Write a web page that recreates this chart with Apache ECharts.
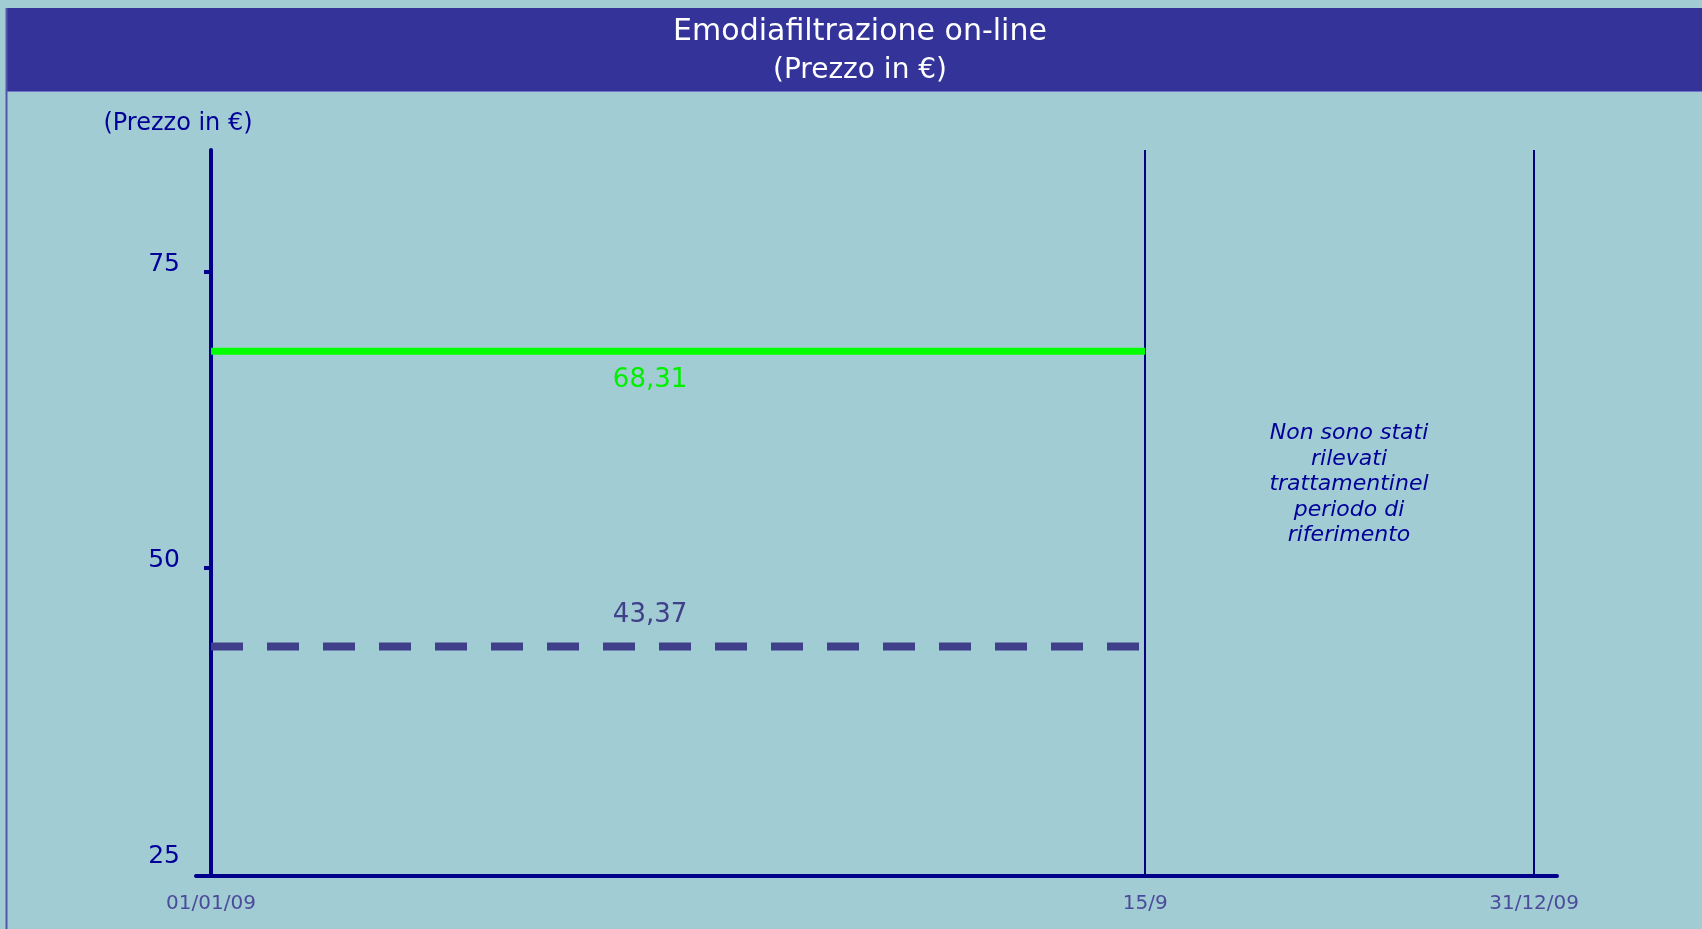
<!DOCTYPE html>
<html>
<head>
<meta charset="utf-8">
<script src="https://cdn.jsdelivr.net/npm/echarts@6/dist/echarts.min.js"></script>
<style>
  html, body { margin: 0; padding: 0; background: #A2CCD3; }
  #chart { width: 1702px; height: 929px; }
</style>
</head>
<body>
<div id="chart"></div>
<script>
// ---- Data ----
const titleText = 'Emodiafiltrazione on-line';
const subtitleText = '(Prezzo in €)';
const yAxisName = '(Prezzo in €)';
const xTickLabels = ['01/01/09', '15/9', '31/12/09'];
const xTickDays = [0, 257, 364];          // days from 01/01/09
const yTickLabels = [25, 50, 75];
const yTickMarks = [50, 75];
const periodStartDay = 0;                 // 01/01/09
const periodEndDay = 257;                 // 15/9
const verticalLineDays = [257, 364];      // 15/9, 31/12/09
const greenPrice = [68.31, 68.31];
const dashedPrice = [43.37, 43.37];
const noteText = 'Non sono stati\nrilevati\ntrattamentinel\nperiodo di\nriferimento';

// ---- Build ----
const fmt = v => String(v).replace('.', ',');
const greenData = [[periodStartDay, greenPrice[0]], [periodEndDay, greenPrice[1]]];
const dashedData = [[periodStartDay, dashedPrice[0]], [periodEndDay, dashedPrice[1]]];
const labelDay = periodStartDay + (periodEndDay - periodStartDay) * 0.47;

const axisColor = '#00008B';
const FONT = 'DejaVu Sans';

const chart = echarts.init(document.getElementById('chart'), null, { renderer: 'canvas' });
chart.setOption({
  animation: false,
  backgroundColor: '#A2CCD3',
  textStyle: { fontFamily: FONT },
  grid: { left: 196, right: 145, top: 150, bottom: 53, containLabel: false },
  xAxis: {
    type: 'value',
    min: -4.13,
    max: 370.3,
    axisLine: { show: true, onZero: true, lineStyle: { color: axisColor, width: 4 } },
    axisTick: { show: false },
    splitLine: { show: false },
    axisLabel: {
      customValues: xTickDays,
      formatter: v => xTickLabels[xTickDays.indexOf(v)] || '',
      color: '#4B4B9B',
      fontFamily: FONT,
      fontSize: 20,
      margin: 18
    }
  },
  yAxis: {
    type: 'value',
    min: 24,
    max: 85.3,
    name: yAxisName,
    nameLocation: 'end',
    nameGap: 14,
    nameTextStyle: { color: '#000099', fontFamily: FONT, fontSize: 24, align: 'center', padding: [0, 66, 0, 0] },
    axisLine: { show: true, onZero: true, lineStyle: { color: axisColor, width: 4 } },
    axisTick: { show: true, customValues: yTickMarks, length: 7, lineStyle: { color: axisColor, width: 4 } },
    splitLine: { show: false },
    axisLabel: {
      customValues: yTickLabels,
      color: '#000099',
      fontFamily: FONT,
      fontSize: 25,
      margin: 16,
      verticalAlign: 'bottom',
      lineHeight: 15
    }
  },
  series: [
    {
      type: 'line',
      data: greenData,
      symbol: 'none',
      z: 5,
      lineStyle: { color: '#00FF00', width: 7, cap: 'butt' },
      markPoint: {
        symbol: 'circle',
        symbolSize: 0,
        data: [{ coord: [labelDay, greenPrice[0]], value: greenPrice[0] }],
        label: {
          show: true, position: 'bottom', distance: 16,
          formatter: p => fmt(p.value),
          color: '#00F000', fontFamily: FONT, fontSize: 26
        }
      },
      markLine: {
        silent: true,
        symbol: ['none', 'none'],
        label: { show: false },
        lineStyle: { color: '#000080', width: 2, type: 'solid' },
        data: verticalLineDays.map(d => ({ xAxis: d }))
      }
    },
    {
      type: 'line',
      data: dashedData,
      symbol: 'none',
      z: 4,
      lineStyle: { color: '#40408A', width: 8, type: [32, 24], cap: 'butt' },
      markPoint: {
        symbol: 'circle',
        symbolSize: 0,
        data: [{ coord: [labelDay, dashedPrice[0]], value: dashedPrice[0] }],
        label: {
          show: true, position: 'top', distance: 18,
          formatter: p => fmt(p.value),
          color: '#40408A', fontFamily: FONT, fontSize: 26
        }
      }
    }
  ],
  graphic: [
    { type: 'rect', left: 6, top: 8, shape: { width: 1696, height: 83 }, style: { fill: '#333399' }, z: 0 },
    { type: 'line', shape: { x1: 6, y1: 91.5, x2: 1702, y2: 91.5 }, style: { stroke: '#7474C8', lineWidth: 1 }, z: 1 },
    { type: 'line', shape: { x1: 6.5, y1: 8, x2: 6.5, y2: 929 }, style: { stroke: '#5454AA', lineWidth: 2 }, z: 1 },
    { type: 'text', x: 860, y: 32, style: { text: titleText, fill: '#FFFFFF', font: '30px "DejaVu Sans"', align: 'center', verticalAlign: 'middle' }, z: 2 },
    { type: 'text', x: 860, y: 71, style: { text: subtitleText, fill: '#FFFFFF', font: '28px "DejaVu Sans"', align: 'center', verticalAlign: 'middle' }, z: 2 },
    { type: 'text', x: 1349, y: 421, style: { text: noteText, fill: '#000099', font: 'italic 22px "DejaVu Sans"', align: 'center', verticalAlign: 'top', lineHeight: 25.5 }, z: 2 }
  ]
});
</script>
</body>
</html>
